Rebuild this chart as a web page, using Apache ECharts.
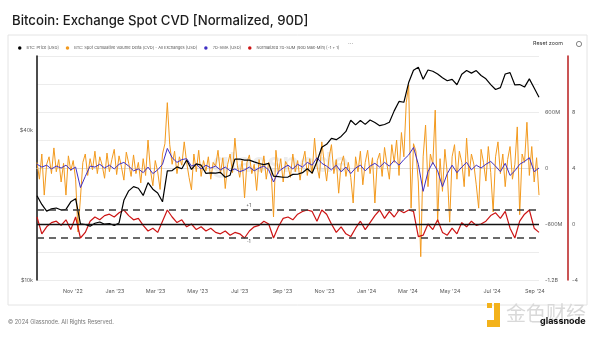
<!DOCTYPE html>
<html>
<head>
<meta charset="utf-8">
<script src="https://cdn.jsdelivr.net/npm/echarts@6/dist/echarts.min.js"></script>
<style>
html,body{margin:0;padding:0;background:#fff;}
#c{width:600px;height:339px;}
</style>
</head>
<body>
<div id="c"></div>
<script>
// ---------- DATA ----------
const startDate = '2022-09-10';
const endDate = '2024-09-07';
const weeklyStepDays = 7;
const cvdStepDays = 3.5;

// BTC price [USD], weekly
const priceUSD = [
21800,20100,18900,19300,19450,19100,19200,20600,21200,16800,
16700,16450,16900,17100,16750,16850,16550,16950,20900,22800,
23700,23350,21850,24600,23150,22350,20600,27400,27500,28450,
27950,30300,27800,29250,28900,26800,26900,26850,27050,25850,
26350,30550,30600,30300,30300,29800,29350,29050,29400,26100,
26000,25850,25900,26550,26580,26970,27950,26850,29900,34100,
35050,37050,36600,37700,39500,43800,41950,43700,42150,43900,
42850,41650,42100,43000,47750,52100,51700,62050,69500,71500,
64000,69700,68900,67200,64900,63100,63900,60800,67000,69300,
67700,69300,66200,64250,60900,58200,59200,67150,68000,60700,
60900,59500,64200,58950,54150
];

// Spot CVD - all exchanges [USD millions], every 3.5 days
const cvdM = [
60,-120,150,-290,40,120,-60,215,-40,90,
-150,50,-290,130,-30,80,-120,-685,-320,60,
150,-80,100,-20,180,-60,120,30,-110,160,
-40,90,200,-70,130,10,-130,170,50,-90,
140,-60,60,-160,100,-80,300,-20,-190,80,
-40,-230,150,260,700,250,40,180,-60,120,
30,280,60,-100,-235,150,-40,190,-90,80,
-30,120,-120,60,20,190,-60,110,-220,40,
150,-50,320,30,-100,80,-320,60,140,-60,
40,-240,90,-50,130,-120,60,-30,-525,190,
-60,100,-150,70,20,-100,150,-40,80,-130,
60,180,-80,100,-60,320,20,-110,280,60,
-140,110,250,-60,90,-270,40,130,-90,60,
-100,-375,120,-40,180,-180,60,190,-60,110,
-375,80,160,-90,220,40,-120,250,60,300,
-80,380,120,700,890,-430,260,180,-150,-950,
120,460,-200,150,40,620,-580,100,-250,200,
-60,-580,120,250,-120,180,60,-200,320,-90,
150,40,-180,-430,200,60,-140,230,-50,-470,
120,280,-60,150,-200,90,230,-120,40,440,
-500,150,60,490,-80,230,-150,110,-290
];

// 7D-SMA [USD millions], weekly
const smaM = [
40,10,30,-10,20,0,30,-20,10,-210,
-90,20,10,40,0,30,-10,40,60,20,
-30,-10,-50,10,-60,-20,40,210,110,60,
90,100,20,40,-10,30,0,20,-20,10,
-30,-10,-40,-20,10,-30,0,20,-20,-150,
-40,0,30,-10,40,10,60,30,110,50,
20,-20,30,-40,10,-60,0,30,-30,20,
50,10,60,20,80,30,90,140,220,40,
-250,-40,60,-30,-200,-60,30,-50,10,60,
-20,30,0,40,70,20,-40,50,-80,-30,
40,70,110,-40,0
];

// Normalized 7D-SUM (90D Max-Min) [-1, +1], weekly
const normVal = [
0.5,-0.7,-0.2,0.1,0.2,-0.1,0.3,-0.4,0.5,-1.0,
-0.6,0.2,0.5,0.3,0.6,0.7,0.5,0.8,1.0,0.6,
0.3,0.4,-0.1,-0.5,-0.3,-0.6,0.2,1.0,0.5,0.1,
0.3,-0.2,0.0,-0.4,-0.2,-0.5,-0.3,-0.6,-0.7,-0.5,
-0.8,-0.6,-0.7,-1.0,-0.5,-0.2,-0.1,0.2,0.0,-1.0,
-0.2,0.4,0.5,0.3,0.7,0.9,1.0,0.9,0.2,1.0,
0.7,0.0,-0.6,-0.2,-0.7,-0.9,-0.3,0.2,-0.4,0.1,
0.6,1.0,0.4,0.9,0.5,1.0,0.8,1.0,0.9,-0.9,
-0.8,0.0,-0.4,0.3,-0.6,-0.8,-0.3,-0.7,0.1,-0.2,
0.2,-0.1,0.0,0.2,0.6,0.8,0.4,0.9,-0.3,-1.0,
0.2,0.7,1.0,-0.3,-0.6
];

const xTickDates = ['2022-11-01','2023-01-01','2023-03-01','2023-05-01','2023-07-01','2023-09-01',
  '2023-11-01','2024-01-01','2024-03-01','2024-05-01','2024-07-01','2024-09-01'];
const priceTicks = [10000, 40000];
const bandLevels = [1, -1];
const bandLabelDate = '2023-07-14';

// ---------- BUILD ----------
const DAY = 86400000;
const t0 = Date.parse(startDate);
const toSeries = (arr, step) => arr.map((v, i) => [t0 + i * step * DAY, v]);
const MONTHS = ['Jan','Feb','Mar','Apr','May','Jun','Jul','Aug','Sep','Oct','Nov','Dec'];
const FONT = 'Inter, Roboto, sans-serif';
const labelColor = '#5a5a5a';

const chart = echarts.init(document.getElementById('c'), null, {renderer: 'canvas'});
const option = {
  animation: false,
  backgroundColor: '#ffffff',
  title: {
    text: 'Bitcoin: Exchange Spot CVD [Normalized, 90D]',
    left: 7, top: 10,
    textStyle: {fontSize: 13.2, fontWeight: 500, color: '#1c1c1c', fontFamily: FONT}
  },
  legend: {
    left: 13, top: 41, icon: 'circle', itemWidth: 3.5, itemHeight: 3.5, itemGap: 7,
    textStyle: {fontSize: 4.0, color: '#555', fontFamily: FONT},
    data: ['BTC: Price [USD]', 'BTC: Spot Cumulative Volume Delta (CVD) - All Exchanges [USD]',
           '7D-SMA [USD]', 'Normalized 7D-SUM (90D Max-Min) [-1 + 1]']
  },
  grid: {left: 37, right: 61, top: 56, bottom: 59, outerBoundsMode: 'none'},
  xAxis: {
    type: 'value',
    min: Date.parse(startDate), max: Date.parse(endDate),
    axisLine: {show: true, lineStyle: {color: '#dcdcdc', width: 1}},
    axisTick: {show: false},
    splitLine: {show: false},
    axisLabel: {
      customValues: xTickDates.map(d => Date.parse(d)),
      formatter: v => { const d = new Date(v); return MONTHS[d.getUTCMonth()] + " '" + String(d.getUTCFullYear()).slice(2); },
      fontSize: 5.4, color: labelColor, fontFamily: FONT, margin: 9
    }
  },
  yAxis: [
    {
      type: 'log', position: 'left', min: 10000, max: 79300,
      axisLine: {show: true, lineStyle: {color: '#111', width: 1.5}},
      axisTick: {show: false}, splitLine: {show: false},
      axisLabel: {
        customValues: priceTicks,
        formatter: v => '$' + Math.round(v / 1000) + 'k',
        fontSize: 5.4, color: labelColor, fontFamily: FONT, margin: 4
      }
    },
    {
      type: 'value', position: 'right', min: -1200, max: 1200, interval: 300,
      axisLine: {show: false}, axisTick: {show: false},
      splitLine: {show: true, lineStyle: {color: '#ececec', width: 1}},
      axisLabel: {
        formatter: v => {
          const k = Math.round(v / 300);
          if (k % 2 !== 0 || k === 4) return '';
          if (Math.abs(v) >= 1000) return (v / 1000) + 'B';
          return v === 0 ? '0' : v + 'M';
        },
        fontSize: 5.4, color: labelColor, fontFamily: FONT, margin: 6
      }
    },
    {
      type: 'value', position: 'right', offset: 29, min: -4, max: 12, interval: 4,
      axisLine: {show: true, lineStyle: {color: '#b81d1d', width: 1.5}},
      axisTick: {show: false}, splitLine: {show: false},
      axisLabel: {
        formatter: v => (v === 12 ? '' : String(v)),
        fontSize: 5.4, color: labelColor, fontFamily: FONT, margin: 4
      }
    }
  ],
  series: [
    {
      name: 'BTC: Spot Cumulative Volume Delta (CVD) - All Exchanges [USD]',
      type: 'line', yAxisIndex: 1, showSymbol: false, symbol: 'none',
      data: toSeries(cvdM, cvdStepDays),
      itemStyle: {color: '#f39a1e'},
      lineStyle: {color: '#f39a1e', width: 1}
    },
    {
      name: '7D-SMA [USD]',
      type: 'line', yAxisIndex: 1, showSymbol: false, symbol: 'none',
      data: toSeries(smaM, weeklyStepDays),
      itemStyle: {color: '#3f2fc4'},
      lineStyle: {color: '#3f2fc4', width: 1}
    },
    {
      name: 'Normalized 7D-SUM (90D Max-Min) [-1 + 1]',
      type: 'line', yAxisIndex: 2, showSymbol: false, symbol: 'none',
      data: toSeries(normVal, weeklyStepDays),
      itemStyle: {color: '#cc1414'},
      lineStyle: {color: '#cc1414', width: 1.2},
      markLine: {
        silent: true, symbol: 'none', label: {show: false},
        data: [
          {yAxis: 0, lineStyle: {color: '#111', width: 1.3, type: 'solid'}},
          ...bandLevels.map(b => ({yAxis: b, lineStyle: {color: '#3a3a3a', width: 1.6, type: [7, 5]}}))
        ]
      },
      markPoint: {
        silent: true, symbol: 'circle', symbolSize: 0,
        data: bandLevels.map(b => ({
          coord: [Date.parse(bandLabelDate), b], value: (b > 0 ? '+' : '') + b,
          label: {show: true, formatter: '{c}', position: b > 0 ? 'top' : 'bottom', distance: 2,
                  fontSize: 4.4, color: '#333', fontFamily: FONT}
        }))
      }
    },
    {
      name: 'BTC: Price [USD]',
      type: 'line', yAxisIndex: 0, showSymbol: false, symbol: 'none',
      data: toSeries(priceUSD, weeklyStepDays),
      itemStyle: {color: '#000'},
      lineStyle: {color: '#000', width: 1.2}
    }
  ],
  graphic: [
    {type: 'rect', z: -10, shape: {x: 8, y: 35, width: 579, height: 270},
     style: {fill: '#fff', stroke: '#e4e4e4', lineWidth: 1}},
    {type: 'text', x: 348, y: 41, style: {text: '···', fontSize: 6, fill: '#777', fontFamily: FONT}},
    {type: 'text', x: 533, y: 41, style: {text: 'Reset zoom', fontSize: 5.4, fill: '#333', fontFamily: FONT}},
    {type: 'circle', shape: {cx: 579, cy: 44, r: 2.6}, style: {fill: 'none', stroke: '#666', lineWidth: 0.8}},
    {type: 'text', x: 212, y: 150, z: 0, silent: true,
     style: {text: 'glassnode', fontSize: 27, fontWeight: 'bold', fill: 'rgba(0,0,0,0.07)', fontFamily: FONT}},
    {type: 'text', x: 8, y: 319, style: {text: '\u00a9 2024 Glassnode. All Rights Reserved.', fontSize: 5.6, fill: '#777', fontFamily: FONT}},
    {type: 'rect', shape: {x: 487, y: 303, width: 5, height: 5}, style: {fill: '#f3b21b'}},
    {type: 'polygon', shape: {points: [[494, 303], [500, 303], [500, 327], [487, 327], [487, 320], [494, 320]]}, style: {fill: '#f3b21b'}},
    {type: 'text', x: 506, y: 303, style: {text: '金色财经', fontSize: 20, fill: '#d9d9d9', fontFamily: 'Noto Sans CJK SC'}},
    {type: 'text', x: 540, y: 317, style: {text: 'glassnode', fontSize: 9, fontWeight: 'bold', fill: '#111', fontFamily: FONT}}
  ]
};
chart.setOption(option);
</script>
</body>
</html>
